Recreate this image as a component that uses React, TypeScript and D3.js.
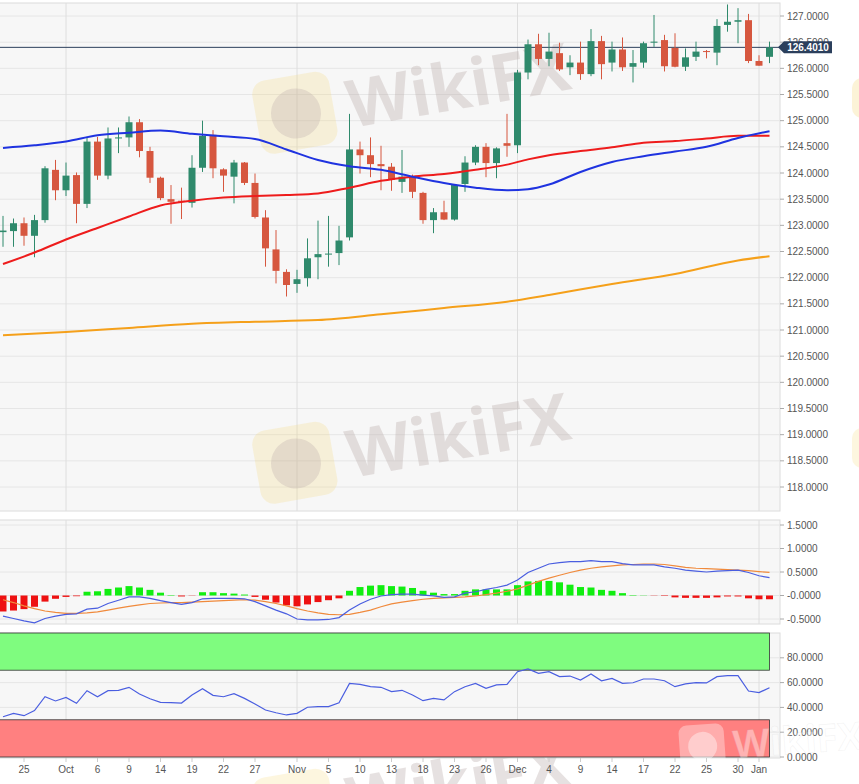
import React from 'react';
import * as d3 from 'd3';

// EUR/JPY daily, 23 Sep 2020 .. 4 Jan 2021 (one entry per trading day)
const OPEN = [
  122.87, 122.89, 123.04, 122.8, 123.1, 124.06, 123.67, 123.96, 123.41, 124.6,
  123.95, 124.66, 124.68, 124.97, 124.42, 123.91, 123.5, 123.47, 123.43, 124.1,
  124.73, 124.07, 123.93, 124.2, 123.81, 123.15, 122.54, 122.11, 121.88, 121.99,
  122.39, 122.45, 122.47, 122.77, 124.45, 124.34, 124.17, 124.12, 123.83, 123.93,
  123.62, 123.1, 123.25, 123.11, 123.79, 124.2, 124.5, 124.19, 124.57, 124.53,
  125.92, 126.46, 126.18, 126.29, 126.02, 126.11, 125.89, 126.52, 126.11, 126.36,
  126.03, 126.11, 126.49, 126.54, 126.39, 126.03, 126.22, 126.33, 126.3, 126.83,
  126.89, 126.92, 126.14, 126.22,
];
const HIGH = [
  123.18, 123.13, 123.15, 123.2, 124.13, 124.25, 124.2, 124.01, 124.69, 124.69,
  124.87, 124.87, 125.08, 125.03, 124.5, 123.93, 123.77, 123.72, 124.34, 125.0,
  124.82, 124.09, 124.25, 124.21, 123.99, 123.29, 122.91, 122.16, 122.15, 122.75,
  123.09, 123.18, 122.99, 125.13, 124.6, 124.68, 124.52, 124.19, 124.44, 123.97,
  123.64, 123.33, 123.47, 123.79, 124.32, 124.53, 124.57, 124.49, 125.13, 125.97,
  126.55, 126.66, 126.68, 126.49, 126.25, 126.51, 126.75, 126.62, 126.51, 126.59,
  126.35, 126.51, 127.02, 126.64, 126.67, 126.38, 126.51, 126.35, 126.94, 127.22,
  127.15, 127.04, 126.25, 126.51,
];
const LOW = [
  122.59, 122.59, 122.61, 122.39, 123.05, 123.48, 123.56, 123.04, 123.33, 123.87,
  123.88, 124.38, 124.5, 124.3, 123.81, 123.48, 123.03, 123.12, 123.34, 124.02,
  123.9, 123.64, 123.42, 123.77, 123.13, 122.21, 121.89, 121.64, 121.71, 121.83,
  121.97, 122.21, 122.24, 122.71, 123.99, 123.92, 123.67, 123.66, 123.62, 123.52,
  123.03, 122.85, 123.1, 123.09, 123.64, 124.15, 123.92, 123.9, 124.31, 124.38,
  125.79, 126.06, 126.04, 125.95, 125.87, 125.78, 125.85, 125.79, 125.94, 125.95,
  125.73, 126.01, 126.41, 125.94, 126.02, 125.95, 126.14, 126.19, 126.06, 126.7,
  126.48, 126.1, 126.05, 126.1,
];
const CLOSE = [
  122.9, 123.04, 122.8, 123.1, 124.09, 123.67, 123.95, 123.41, 124.6, 123.95,
  124.66, 124.68, 124.97, 124.42, 123.91, 123.52, 123.45, 123.46, 124.1, 124.71,
  124.09, 123.95, 124.2, 123.81, 123.16, 122.56, 122.13, 121.86, 121.97, 122.37,
  122.45, 122.46, 122.71, 124.45, 124.34, 124.17, 124.13, 123.87, 123.93, 123.64,
  123.1, 123.25, 123.11, 123.77, 124.2, 124.5, 124.19, 124.47, 124.52, 125.92,
  126.46, 126.18, 126.32, 125.98, 126.11, 125.89, 126.52, 126.08, 126.36, 126.02,
  126.1, 126.48, 126.51, 126.04, 126.03, 126.21, 126.32, 126.32, 126.81, 126.89,
  126.92, 126.14, 126.05, 126.4,
];

// moving averages, read at these candle indices
const MA_IDX = [0, 3, 6, 9, 12, 15, 18, 21, 24, 27, 30, 33, 36, 39, 42, 45, 48, 50, 52, 55, 58, 61, 64, 67, 70, 73];
const SMA_BLUE = [
  124.48, 124.53, 124.6, 124.72, 124.77, 124.81, 124.75, 124.7, 124.65, 124.45,
  124.25, 124.13, 124.06, 123.93, 123.81, 123.72, 123.67, 123.69, 123.78, 124.02,
  124.21, 124.32, 124.41, 124.5, 124.67, 124.8,
];
const SMA_RED = [
  122.26, 122.48, 122.73, 122.95, 123.17, 123.38, 123.47, 123.53, 123.56, 123.58,
  123.61, 123.72, 123.85, 123.93, 123.98, 124.06, 124.16, 124.26, 124.34, 124.42,
  124.49, 124.58, 124.61, 124.66, 124.71, 124.71,
];
const SLOW_IDX = [0, 6, 12, 18, 24, 30, 36, 42, 48, 52, 58, 64, 70, 73];
const SMA_ORANGE = [120.9, 120.96, 121.04, 121.12, 121.16, 121.19, 121.3, 121.42, 121.54, 121.67, 121.88, 122.07, 122.33, 122.41];

const MACD = [
  -0.44, -0.49, -0.54, -0.58, -0.49, -0.44, -0.4, -0.39, -0.29, -0.27,
  -0.17, -0.1, -0.03, -0.03, -0.06, -0.11, -0.15, -0.19, -0.15, -0.07,
  -0.06, -0.06, -0.06, -0.07, -0.13, -0.22, -0.31, -0.39, -0.5, -0.52,
  -0.52, -0.51, -0.47, -0.31, -0.18, -0.08, -0.01, 0.02, 0.03, 0.03,
  0.01, -0.01, -0.04, -0.03, 0.05, 0.08, 0.13, 0.17, 0.22, 0.33,
  0.49, 0.58, 0.67, 0.7, 0.72, 0.72, 0.74, 0.72, 0.72, 0.68,
  0.65, 0.65, 0.65, 0.61, 0.58, 0.54, 0.52, 0.5, 0.52, 0.53,
  0.54, 0.49, 0.42, 0.38,
];
const SIGNAL = [
  -0.09, -0.15, -0.22, -0.28, -0.33, -0.36, -0.38, -0.38, -0.37, -0.35,
  -0.31, -0.27, -0.23, -0.2, -0.17, -0.16, -0.15, -0.15, -0.14, -0.13,
  -0.12, -0.11, -0.1, -0.09, -0.1, -0.13, -0.17, -0.22, -0.28, -0.33,
  -0.37, -0.4, -0.41, -0.4, -0.36, -0.31, -0.24, -0.18, -0.14, -0.11,
  -0.08, -0.06, -0.05, -0.04, -0.03, -0.01, 0.02, 0.05, 0.09, 0.14,
  0.22, 0.3, 0.37, 0.43, 0.49, 0.54, 0.58, 0.61, 0.63, 0.65,
  0.66, 0.67, 0.67, 0.66, 0.63, 0.6, 0.58, 0.57, 0.56, 0.55,
  0.54, 0.53, 0.51, 0.49,
];
const HIST = [
  -0.34, -0.32, -0.29, -0.24, -0.13, -0.07, -0.03, -0.015, 0.08, 0.09,
  0.14, 0.17, 0.2, 0.17, 0.12, 0.06, 0.01, -0.02, -0.005, 0.07,
  0.07, 0.05, 0.04, 0.02, -0.03, -0.09, -0.15, -0.21, -0.23, -0.19,
  -0.14, -0.1, -0.06, 0.1, 0.18, 0.21, 0.22, 0.2, 0.19, 0.16,
  0.1, 0.06, 0.03, 0.03, 0.1, 0.13, 0.13, 0.13, 0.13, 0.22,
  0.3, 0.31, 0.31, 0.28, 0.23, 0.18, 0.17, 0.12, 0.1, 0.05,
  0.01, 0.005, -0.005, -0.01, -0.04, -0.05, -0.05, -0.05, -0.04, -0.02,
  -0.02, -0.06, -0.08, -0.08,
];
const RSI = [
  32.5, 35.2, 33.3, 37.4, 48.6, 45.2, 48.1, 43.3, 53.5, 48.6,
  53.5, 53.8, 56.2, 50.8, 47.0, 44.1, 43.8, 43.5, 50.0, 55.1,
  49.7, 48.6, 51.1, 47.3, 42.7, 37.9, 35.7, 33.9, 35.2, 40.1,
  40.6, 40.6, 43.8, 59.4, 58.6, 56.7, 56.2, 52.7, 53.8, 50.0,
  45.4, 47.3, 46.0, 52.7, 56.7, 59.4, 55.4, 58.1, 58.6, 68.8,
  71.0, 67.5, 68.8, 64.8, 65.3, 62.1, 66.9, 61.5, 63.4, 59.4,
  59.9, 62.9, 62.9, 61.5, 56.7, 58.9, 59.9, 59.7, 64.8, 65.6,
  65.6, 53.2, 51.9, 55.9,
];

const X_TICK_IDX = [2, 6, 9, 12, 15, 18, 21, 24, 28, 31, 34, 37, 40, 43, 46, 49, 52, 55, 58, 61, 64, 67, 70, 72];
const X_TICK_LABELS = ['25', 'Oct', '6', '9', '14', '19', '22', '27', 'Nov', '5', '10', '13', '18', '23', '26', 'Dec', '4', '9', '14', '17', '22', '25', '30', 'Jan'];
const MONTH_IDX = [6, 28, 49, 72];
const PRICE_TICKS = [118, 118.5, 119, 119.5, 120, 120.5, 121, 121.5, 122, 122.5, 123, 123.5, 124, 124.5, 125, 125.5, 126, 126.5, 127];
const MACD_TICKS = [-0.5, 0, 0.5, 1, 1.5];
const MACD_TICK_LABELS = ['-0.5000', '-0.0000', '0.5000', '1.0000', '1.5000'];
const RSI_TICKS = [0, 20, 40, 60, 80];
const LAST_PRICE = 126.401;

const W = 859;
const H = 784;
const PLOT_R = 780;
const MAIN = { top: 3, bottom: 511 };
const MACD_P = { top: 520, bottom: 624 };
const RSI_P = { top: 633, bottom: 758 };

const FONT = "'Liberation Sans', Arial, sans-serif";
const UP = '#2f8a6c';
const DOWN = '#d6573f';
const GRID = '#e6e6e6';
const PANEL_BG = '#f7f7f7';

const Watermark = ({ x, y, s = 1, rot = -10, light = false }: { x: number; y: number; s?: number; rot?: number; light?: boolean }) => (
  <g transform={`translate(${x},${y}) rotate(${rot}) scale(${s})`}>
    <rect x={0} y={0} width={78} height={74} rx={14} fill={light ? '#ffffff' : '#f5d060'} opacity={light ? 0.35 : 0.2} />
    <circle cx={40} cy={38} r={25} fill={light ? '#ffffff' : '#b9aaa8'} opacity={light ? 0.4 : 0.3} />
    <text
      x={92}
      y={62}
      fontSize={66}
      fontWeight={700}
      fontFamily="'Open Sans', 'DejaVu Sans', sans-serif"
      fill={light ? '#ffffff' : '#b9aaa8'}
      stroke={light ? '#999' : 'none'}
      strokeOpacity={0.3}
      opacity={light ? 0.4 : 0.34}
    >
      WikiFX
    </text>
  </g>
);

export default function App() {
  const x = d3.scaleLinear().domain([0, 73]).range([3, 769.5]);
  const yPrice = d3.scaleLinear().domain([118, 127]).range([487, 16]);
  const yMacd = d3.scaleLinear().domain([-0.5, 1.5]).range([619, 525]);
  const yRsi = d3.scaleLinear().domain([0, 100]).range([757, 633]);

  const maLine = (idx: number[]) =>
    d3.line<number>().x((_, k) => x(idx[k])).y(v => yPrice(v)).curve(d3.curveMonotoneX);
  const seriesLine = (scale: d3.ScaleLinear<number, number>) =>
    d3.line<number>().x((_, i) => x(i)).y(v => scale(v));

  const bodyW = 7;
  const py = yPrice(LAST_PRICE);

  const panel = (p: { top: number; bottom: number }, key: string) => (
    <rect key={key} x={-1} y={p.top} width={PLOT_R + 1} height={p.bottom - p.top} fill={PANEL_BG} stroke="#dcdcdc" />
  );

  const vGrid = (p: { top: number; bottom: number }) =>
    MONTH_IDX.map(i => (
      <line key={`v${p.top}-${i}`} x1={x(i)} x2={x(i)} y1={p.top} y2={p.bottom} stroke="#dedede" />
    ));

  return (
    <div style={{ position: 'absolute', left: 0, top: 0 }}>
      <svg width={W} height={H} style={{ display: 'block', background: '#fff' }}>
        <defs>
          <clipPath id="clipMain">
            <rect x={0} y={MAIN.top} width={PLOT_R} height={MAIN.bottom - MAIN.top} />
          </clipPath>
          <clipPath id="clipMacd">
            <rect x={0} y={MACD_P.top} width={PLOT_R} height={MACD_P.bottom - MACD_P.top} />
          </clipPath>
        </defs>

        {/* panels */}
        {panel(MAIN, 'pm')}
        {panel(MACD_P, 'pd')}
        {panel(RSI_P, 'pr')}

        {/* main grid */}
        {PRICE_TICKS.map(t => (
          <line key={`g${t}`} x1={0} x2={PLOT_R} y1={yPrice(t)} y2={yPrice(t)} stroke={GRID} />
        ))}
        {vGrid(MAIN)}

        <Watermark x={250} y={83} />
        <Watermark x={250} y={433} />
        <Watermark x={250} y={780} />
        <rect x={852} y={78} width={40} height={40} rx={10} fill="#f5d060" opacity={0.25} />
        <rect x={852} y={428} width={40} height={40} rx={10} fill="#f5d060" opacity={0.2} />

        {/* price line */}
        <line x1={0} x2={PLOT_R} y1={py} y2={py} stroke="#2b3f5c" strokeWidth={1} />

        {/* candles */}
        <g clipPath="url(#clipMain)">
          {OPEN.map((o, i) => {
            const c = CLOSE[i];
            const col = c >= o ? UP : DOWN;
            const yTop = yPrice(Math.max(o, c));
            const h = Math.max(1, Math.abs(yPrice(o) - yPrice(c)));
            return (
              <g key={`c${i}`}>
                <line x1={x(i)} x2={x(i)} y1={yPrice(HIGH[i])} y2={yPrice(LOW[i])} stroke={col} strokeWidth={1} />
                <rect x={x(i) - bodyW / 2} y={yTop} width={bodyW} height={h} fill={col} />
              </g>
            );
          })}
          <path d={maLine(SLOW_IDX)(SMA_ORANGE) || ''} fill="none" stroke="#f5a01a" strokeWidth={2} />
          <path d={maLine(MA_IDX)(SMA_RED) || ''} fill="none" stroke="#ee1c1c" strokeWidth={2} />
          <path d={maLine(MA_IDX)(SMA_BLUE) || ''} fill="none" stroke="#1f33e0" strokeWidth={2} />
        </g>

        {/* price axis */}
        {PRICE_TICKS.map(t => (
          <g key={`pt${t}`}>
            <line x1={PLOT_R} x2={PLOT_R + 4} y1={yPrice(t)} y2={yPrice(t)} stroke="#aaa" />
            <text x={PLOT_R + 7} y={yPrice(t)} dy="0.35em" fontSize={10} fontFamily={FONT} fill="#555">
              {t.toFixed(4)}
            </text>
          </g>
        ))}
        <path
          d={`M778,${py} L784,${py - 6} L832,${py - 6} L832,${py + 6} L784,${py + 6} Z`}
          fill="#2b3f5c"
        />
        <text x={808} y={py} dy="0.35em" textAnchor="middle" fontSize={10} fontWeight="bold" fontFamily={FONT} fill="#fff">
          {LAST_PRICE.toFixed(4)}
        </text>

        {/* MACD */}
        {MACD_TICKS.map(t => (
          <line key={`mg${t}`} x1={0} x2={PLOT_R} y1={yMacd(t)} y2={yMacd(t)} stroke={GRID} />
        ))}
        {vGrid(MACD_P)}
        <g clipPath="url(#clipMacd)">
          {HIST.map((v, i) => {
            const y0 = yMacd(0);
            const y1 = yMacd(v);
            return (
              <rect
                key={`h${i}`}
                x={x(i) - bodyW / 2}
                y={Math.min(y0, y1)}
                width={bodyW}
                height={Math.abs(y1 - y0)}
                fill={v >= 0 ? '#11ee11' : '#ee1111'}
              />
            );
          })}
          <path d={seriesLine(yMacd)(SIGNAL) || ''} fill="none" stroke="#f08a3c" strokeWidth={1.2} />
          <path d={seriesLine(yMacd)(MACD) || ''} fill="none" stroke="#4a5ee0" strokeWidth={1.2} />
        </g>
        {MACD_TICKS.map((t, k) => (
          <g key={`mt${t}`}>
            <line x1={PLOT_R} x2={PLOT_R + 4} y1={yMacd(t)} y2={yMacd(t)} stroke="#aaa" />
            <text x={PLOT_R + 7} y={yMacd(t)} dy="0.35em" fontSize={10} fontFamily={FONT} fill="#555">
              {MACD_TICK_LABELS[k]}
            </text>
          </g>
        ))}

        {/* RSI */}
        {RSI_TICKS.map(t => (
          <line key={`rg${t}`} x1={0} x2={PLOT_R} y1={yRsi(t)} y2={yRsi(t)} stroke={GRID} />
        ))}
        {vGrid(RSI_P)}
        <rect x={-1} y={yRsi(100)} width={x(73) + 1} height={yRsi(70) - yRsi(100)} fill="#7ffc7f" stroke="#333" strokeWidth={0.8} />
        <rect x={-1} y={yRsi(30)} width={x(73) + 1} height={yRsi(0) - yRsi(30)} fill="#ff8080" stroke="#333" strokeWidth={0.8} />
        <path d={seriesLine(yRsi)(RSI) || ''} fill="none" stroke="#4a5ee0" strokeWidth={1.2} />
        {RSI_TICKS.map(t => (
          <g key={`rt${t}`}>
            <line x1={PLOT_R} x2={PLOT_R + 4} y1={yRsi(t)} y2={yRsi(t)} stroke="#aaa" />
            <text x={PLOT_R + 7} y={yRsi(t)} dy="0.35em" fontSize={10} fontFamily={FONT} fill="#555">
              {t.toFixed(4)}
            </text>
          </g>
        ))}
        <Watermark x={678} y={726} s={0.58} rot={-4} light />

        {/* date axis */}
        {X_TICK_IDX.map((i, k) => (
          <g key={`xt${k}`}>
            <line x1={x(i)} x2={x(i)} y1={RSI_P.bottom} y2={RSI_P.bottom + 4} stroke="#ccc" />
            <text x={x(i)} y={773} textAnchor="middle" fontSize={10} fontFamily={FONT} fill="#555">
              {X_TICK_LABELS[k]}
            </text>
          </g>
        ))}
      </svg>
    </div>
  );
}
